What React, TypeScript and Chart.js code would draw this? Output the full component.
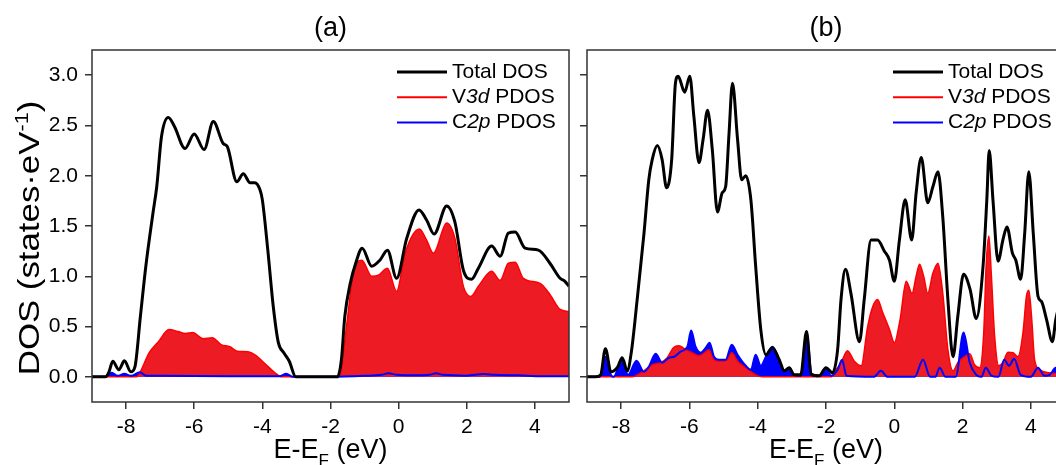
import React, { useEffect, useRef } from "react";
import { Chart, registerables } from "chart.js";

Chart.register(...registerables);

const FONT = '"Liberation Sans", Arial, Helvetica, sans-serif';

// ---------- axis ticks / labels ----------
const X_TICKS = [-8, -6, -4, -2, 0, 2, 4];
const Y_TICKS = [0, 0.5, 1.0, 1.5, 2.0, 2.5, 3.0];
const PANEL_TITLES = ["(a)", "(b)"];
const SERIES_NAMES = ["Total DOS", "V3d PDOS", "C2p PDOS"];

// ---------- panel (a) ----------
const aTotalE = [-9, -8.6, -8.5, -8.39, -8.21, -8.05, -7.86, -7.74, -7.58, -7.42, -7.21, -7.1, -6.96, -6.76, -6.58, -6.27, -6.0, -5.71, -5.44, -5.15, -5.03, -4.75, -4.56, -4.36, -4.22, -4.07, -4.0, -3.84, -3.68, -3.53, -3.37, -3.21, -3.02, -1.8, -1.68, -1.58, -1.42, -1.26, -1.07, -0.79, -0.55, -0.33, -0.06, 0.24, 0.6, 0.82, 1.04, 1.41, 1.65, 1.9, 2.14, 2.34, 2.73, 2.98, 3.22, 3.42, 3.71, 4.1, 4.44, 4.74, 4.88, 5.0];
const aTotalD = [0, 0, 0.05, 0.155, 0.07, 0.16, 0.05, 0.1, 0.6, 1.1, 1.63, 1.89, 2.39, 2.58, 2.49, 2.27, 2.415, 2.26, 2.54, 2.32, 2.29, 1.94, 2.02, 1.93, 1.93, 1.86, 1.76, 1.26, 0.7, 0.34, 0.24, 0.155, 0, 0, 0.17, 0.6, 0.93, 1.13, 1.28, 1.1, 1.16, 1.26, 0.98, 1.38, 1.66, 1.56, 1.42, 1.7, 1.54, 1.06, 0.97, 1.08, 1.3, 1.2, 1.43, 1.44, 1.28, 1.26, 1.13, 0.98, 0.95, 0.9];

const aV3dE = [-9, -7.7, -7.63, -7.32, -7.05, -6.74, -6.47, -6.26, -6.05, -5.74, -5.47, -5.21, -4.95, -4.74, -4.42, -4.16, -3.89, -3.63, -3.42, -1.8, -1.72, -1.52, -1.33, -1.08, -0.79, -0.6, -0.33, -0.06, 0.19, 0.61, 0.82, 1.02, 1.41, 1.65, 1.9, 2.12, 2.34, 2.73, 2.98, 3.22, 3.42, 3.66, 4.15, 4.44, 4.74, 5.0];
const aV3dD = [0, 0, 0.02, 0.24, 0.35, 0.47, 0.45, 0.43, 0.44, 0.38, 0.39, 0.32, 0.3, 0.255, 0.25, 0.205, 0.12, 0.04, 0, 0, 0.02, 0.53, 1.03, 1.16, 1.0, 1.01, 1.08, 0.85, 1.23, 1.47, 1.36, 1.23, 1.53, 1.38, 0.9, 0.8, 0.9, 1.05, 0.96, 1.13, 1.14, 0.98, 0.93, 0.82, 0.67, 0.65];

const aC2pE = [-9, -8.6, -8.42, -8.25, -8.05, -7.85, -7.6, -7.4, -7.0, -5.0, -3.5, -3.3, -3.1, -2.0, -1.0, -0.5, -0.3, -0.05, 0.5, 0.9, 1.1, 1.3, 2.0, 2.5, 2.8, 3.5, 4.2, 5.0];
const aC2pD = [0, 0, 0.04, 0.01, 0.03, 0.01, 0.045, 0.01, 0.01, 0.005, 0.005, 0.03, 0, 0, 0.01, 0.02, 0.035, 0.02, 0.015, 0.02, 0.035, 0.02, 0.012, 0.028, 0.02, 0.015, 0.005, 0.005];

// ---------- panel (b) ----------
const bTotalE = [-9, -8.75, -8.6, -8.46, -8.3, -8.1, -7.97, -7.82, -7.7, -7.53, -7.33, -7.19, -7.09, -6.94, -6.8, -6.67, -6.52, -6.41, -6.33, -6.14, -5.99, -5.87, -5.72, -5.6, -5.47, -5.33, -5.18, -5.04, -4.94, -4.84, -4.74, -4.59, -4.47, -4.35, -4.2, -4.06, -3.91, -3.76, -3.57, -3.37, -3.22, -3.08, -2.93, -2.74, -2.57, -2.44, -2.2, -2.0, -1.81, -1.66, -1.56, -1.43, -1.27, -1.02, -0.88, -0.68, -0.49, -0.29, -0.14, 0.0, 0.15, 0.32, 0.51, 0.64, 0.79, 0.98, 1.13, 1.28, 1.42, 1.57, 1.72, 1.86, 2.03, 2.22, 2.4, 2.6, 2.71, 2.78, 2.89, 3.04, 3.18, 3.3, 3.46, 3.56, 3.7, 3.82, 3.94, 4.07, 4.21, 4.31, 4.46, 4.63, 4.73, 4.9, 5.0];
const bTotalD = [0, 0, 0.02, 0.28, 0.05, 0.1, 0.19, 0.06, 0.25, 0.77, 1.43, 1.96, 2.16, 2.3, 2.16, 1.88, 2.16, 2.92, 2.99, 2.83, 2.99, 2.59, 2.13, 2.36, 2.65, 2.26, 1.64, 1.83, 1.89, 2.42, 2.92, 2.36, 1.96, 2.0, 1.76, 1.1, 0.47, 0.22, 0.29, 0.17, 0.06, 0.09, 0.02, 0.02, 0.45, 0.03, 0.01, 0.09, 0.04, 0.27, 0.77, 1.07, 0.83, 0.35, 0.77, 1.36, 1.36, 1.25, 1.16, 0.95, 1.36, 1.76, 1.36, 1.83, 2.18, 1.73, 1.89, 2.04, 1.59, 0.77, 0.2, 0.6, 1.02, 0.87, 0.58, 1.1, 1.76, 2.25, 1.76, 1.15, 1.36, 1.49, 1.23, 1.16, 0.97, 1.43, 2.04, 1.43, 0.8, 0.75, 0.57, 0.35, 0.57, 0.8, 0.9];

const bV3dE = [-9, -7.68, -7.38, -7.09, -6.85, -6.65, -6.47, -6.31, -6.11, -5.92, -5.72, -5.52, -5.43, -5.28, -5.08, -4.89, -4.76, -4.59, -4.35, -4.06, -3.86, -1.85, -1.71, -1.56, -1.37, -1.17, -0.97, -0.78, -0.63, -0.49, -0.34, -0.14, 0.0, 0.17, 0.35, 0.52, 0.64, 0.74, 0.86, 0.98, 1.13, 1.28, 1.42, 1.57, 1.72, 1.86, 2.06, 2.21, 2.35, 2.5, 2.62, 2.69, 2.77, 2.84, 2.94, 3.06, 3.18, 3.33, 3.48, 3.62, 3.77, 3.87, 3.94, 4.02, 4.11, 4.26, 4.55, 5.0];
const bV3dD = [0, 0, 0.05, 0.12, 0.14, 0.19, 0.29, 0.31, 0.27, 0.24, 0.21, 0.25, 0.27, 0.17, 0.155, 0.17, 0.24, 0.155, 0.09, 0.02, 0, 0, 0.07, 0.14, 0.26, 0.155, 0.11, 0.5, 0.7, 0.77, 0.64, 0.47, 0.34, 0.57, 0.95, 0.83, 1.0, 1.12, 1.0, 0.83, 1.03, 1.13, 0.83, 0.27, 0.06, 0.14, 0.2, 0.23, 0.12, 0.09, 0.44, 1.1, 1.4, 1.03, 0.4, 0.11, 0.14, 0.245, 0.24, 0.2, 0.44, 0.8, 0.86, 0.6, 0.17, 0.07, 0.04, 0.02];

const bC2pE = [-9, -8.62, -8.46, -8.3, -8.22, -7.97, -7.8, -7.55, -7.33, -7.19, -6.99, -6.8, -6.6, -6.45, -6.26, -6.06, -5.95, -5.82, -5.67, -5.52, -5.41, -5.28, -5.13, -4.94, -4.76, -4.59, -4.35, -4.2, -4.06, -3.91, -3.76, -3.57, -3.37, -3.22, -3.08, -2.93, -2.74, -2.57, -2.41, -2.15, -2.0, -1.85, -1.66, -1.53, -1.4, -0.6, -0.39, -0.2, 0.6, 0.84, 1.05, 1.2, 1.33, 1.5, 1.8, 2.03, 2.21, 2.4, 2.55, 2.68, 2.85, 3.05, 3.22, 3.36, 3.51, 3.7, 4.0, 4.21, 4.4, 4.55, 4.73, 5.0];
const bC2pD = [0, 0, 0.2, 0.02, 0, 0.18, 0.02, 0.16, 0.05, 0.1, 0.23, 0.14, 0.19, 0.2, 0.25, 0.3, 0.46, 0.3, 0.24, 0.29, 0.34, 0.2, 0.17, 0.17, 0.32, 0.22, 0.11, 0.07, 0.22, 0.11, 0.2, 0.3, 0.17, 0.04, 0.09, 0.02, 0.01, 0.45, 0.01, 0.01, 0.09, 0.01, 0.07, 0.17, 0.01, 0, 0.06, 0, 0, 0.17, 0, 0, 0.09, 0, 0, 0.44, 0.14, 0.02, 0, 0.09, 0.01, 0, 0.17, 0.11, 0.18, 0.02, 0, 0.09, 0.01, 0.02, 0.09, 0.05];

// ---------- styling ----------
const BLACK = "#000000";
const RED_LINE = "rgb(255,0,0)";
const RED_FILL = "rgb(237,28,36)";
const BLUE = "rgb(0,0,255)";
const FRAME = "#333333";

type Part = [string, "n" | "i" | "sub" | "sup"];
const LEGEND_PARTS: Part[][] = [
  [["Total DOS", "n"]],
  [["V", "n"], ["3d", "i"], [" PDOS", "n"]],
  [["C", "n"], ["2p", "i"], [" PDOS", "n"]],
];
const LEGEND_COLORS = [BLACK, RED_LINE, BLUE];
const LEGEND_WIDTHS = [3, 2, 2];
const X_TITLE: Part[] = [["E-E", "n"], ["F", "sub"], [" (eV)", "n"]];
const Y_TITLE: Part[] = [["DOS (states·eV", "n"], ["-1", "sup"], [")", "n"]];

const zip = (e: number[], d: number[]) => e.map((x, i) => ({ x, y: d[i] }));

function partFont(kind: string, size: number) {
  const s = kind === "sub" || kind === "sup" ? Math.round(size * 0.62) : size;
  return `${kind === "i" ? "italic " : ""}${s}px ${FONT}`;
}
function partsWidth(ctx: CanvasRenderingContext2D, parts: Part[], size: number) {
  let w = 0;
  for (const [t, k] of parts) {
    ctx.font = partFont(k, size);
    w += ctx.measureText(t).width;
  }
  return w;
}
function drawParts(ctx: CanvasRenderingContext2D, parts: Part[], x: number, y: number, size: number) {
  let cx = x;
  for (const [t, k] of parts) {
    ctx.font = partFont(k, size);
    const dy = k === "sub" ? size * 0.3 : k === "sup" ? -size * 0.38 : 0;
    ctx.fillText(t, cx, y + dy);
    cx += ctx.measureText(t).width;
  }
}

function makeDecor(title: string, showYTitle: boolean) {
  return {
    id: "decor",
    afterDraw(chart: any) {
      const ctx: CanvasRenderingContext2D = chart.ctx;
      const a = chart.chartArea;
      ctx.save();
      // frame
      ctx.strokeStyle = FRAME;
      ctx.lineWidth = 1.5;
      ctx.strokeRect(a.left, a.top, a.right - a.left, a.bottom - a.top);
      // panel title
      ctx.fillStyle = "#000";
      ctx.font = `27px ${FONT}`;
      ctx.textAlign = "center";
      ctx.textBaseline = "middle";
      ctx.fillText(title, (a.left + a.right) / 2, 29);
      // legend
      ctx.textAlign = "left";
      ctx.textBaseline = "middle";
      for (let i = 0; i < LEGEND_PARTS.length; i++) {
        const y = 72 + i * 25.3;
        ctx.strokeStyle = LEGEND_COLORS[i];
        ctx.lineWidth = LEGEND_WIDTHS[i];
        ctx.beginPath();
        ctx.moveTo(a.right - 172, y);
        ctx.lineTo(a.right - 122, y);
        ctx.stroke();
        ctx.fillStyle = "#000";
        drawParts(ctx, LEGEND_PARTS[i], a.right - 117, y, 21);
      }
      // x-axis title
      ctx.textBaseline = "alphabetic";
      const xs = 27;
      const xw = partsWidth(ctx, X_TITLE, xs);
      drawParts(ctx, X_TITLE, (a.left + a.right) / 2 - xw / 2, 458, xs);
      // y-axis title (slightly elongated along its length, as in the original figure)
      if (showYTitle) {
        const ys = 29;
        const stretch = 1.2;
        const yw = partsWidth(ctx, Y_TITLE, ys);
        ctx.translate(39, 238);
        ctx.rotate(-Math.PI / 2);
        ctx.scale(stretch, 1);
        drawParts(ctx, Y_TITLE, -yw / 2, 0, ys);
      }
      ctx.restore();
    },
  };
}

function makeConfig(panel: number): any {
  const isA = panel === 0;
  const total = isA ? zip(aTotalE, aTotalD) : zip(bTotalE, bTotalD);
  const v3d = isA ? zip(aV3dE, aV3dD) : zip(bV3dE, bV3dD);
  const c2p = isA ? zip(aC2pE, aC2pD) : zip(bC2pE, bC2pD);
  const common = { pointRadius: 0, cubicInterpolationMode: "monotone" };
  return {
    type: "line",
    data: {
      datasets: [
        { ...common, label: SERIES_NAMES[0], data: total, borderColor: BLACK, borderWidth: 3, fill: false, order: 0 },
        { ...common, label: SERIES_NAMES[2], data: c2p, borderColor: BLUE, borderWidth: 2, fill: false, order: 1 },
        { ...common, label: SERIES_NAMES[1], data: v3d, borderColor: RED_LINE, borderWidth: 1.5, backgroundColor: RED_FILL, fill: "origin", order: 2 },
        { ...common, label: SERIES_NAMES[2] + " fill", data: c2p, borderWidth: 0, borderColor: BLUE, backgroundColor: BLUE, fill: "origin", order: 3 },
      ],
    },
    options: {
      animation: false,
      responsive: false,
      devicePixelRatio: 1,
      layout: { padding: { left: 0, right: isA ? 11 : 15, top: 50, bottom: 0 } },
      plugins: { legend: { display: false }, tooltip: { enabled: false }, title: { display: false } },
      scales: {
        x: {
          type: "linear",
          min: -9,
          max: 5,
          afterBuildTicks: (s: any) => {
            s.ticks = X_TICKS.map((v) => ({ value: v }));
          },
          afterFit: (s: any) => {
            s.height = 63;
          },
          ticks: { font: { family: FONT, size: 21 }, color: "#000", padding: 6, maxRotation: 0, callback: (v: any) => String(v) },
          grid: { drawOnChartArea: false, drawTicks: true, tickLength: 7, color: FRAME, lineWidth: 1.5 },
          border: { display: false },
        },
        y: {
          type: "linear",
          min: -0.25,
          max: 3.25,
          afterBuildTicks: (s: any) => {
            s.ticks = Y_TICKS.map((v) => ({ value: v }));
          },
          afterFit: (s: any) => {
            s.width = isA ? 92 : 7;
          },
          ticks: { display: isA, font: { family: FONT, size: 21 }, color: "#000", padding: 7, callback: (v: any) => Number(v).toFixed(1) },
          grid: { drawOnChartArea: false, drawTicks: true, tickLength: 7, color: FRAME, lineWidth: 1.5 },
          border: { display: false },
        },
      },
    },
    plugins: [makeDecor(PANEL_TITLES[panel], isA)],
  };
}

function Panel({ panel, left, width }: { panel: number; left: number; width: number }) {
  const ref = useRef<HTMLCanvasElement | null>(null);
  useEffect(() => {
    if (!ref.current) return;
    const chart = new Chart(ref.current, makeConfig(panel));
    return () => chart.destroy();
  }, [panel]);
  return (
    <div style={{ position: "absolute", left, top: 0, width, height: 465 }}>
      <canvas ref={ref} width={width} height={465} style={{ display: "block", width, height: 465 }} />
    </div>
  );
}

export default function App() {
  return (
    <div style={{ position: "fixed", left: 0, top: 0, width: 1056, height: 465, overflow: "hidden", background: "#fff" }}>
      <Panel panel={0} left={0} width={580} />
      <Panel panel={1} left={580} width={500} />
    </div>
  );
}
